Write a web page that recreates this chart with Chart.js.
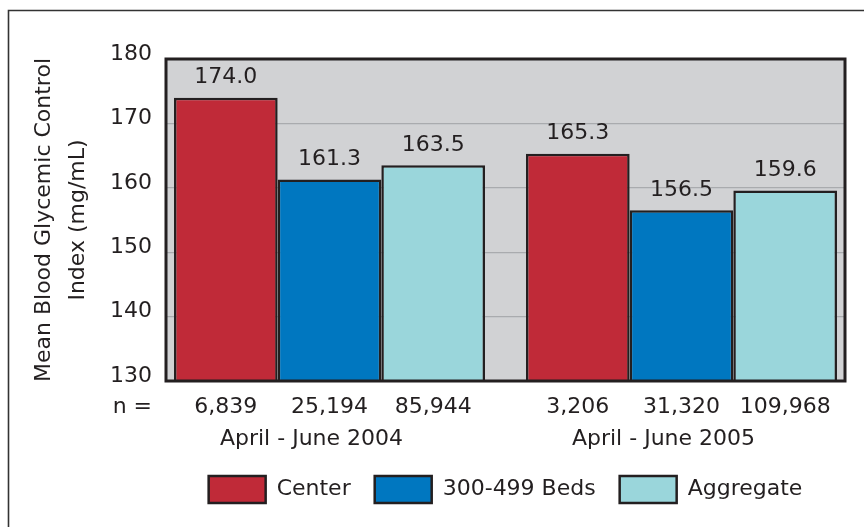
<!DOCTYPE html>
<html>
<head>
<meta charset="utf-8">
<script src="https://cdn.jsdelivr.net/npm/chart.js@4/dist/chart.umd.min.js"></script>
<style>
  html, body { margin: 0; padding: 0; background: #ffffff; }
  #wrap { position: relative; width: 864px; height: 527px; }
</style>
</head>
<body>
<div id="wrap"><canvas id="c" width="864" height="527"></canvas></div>
<script>
// ---- data ----
const periods = ['April - June 2004', 'April - June 2005'];
const seriesNames = ['Center', '300-499 Beds', 'Aggregate'];
const centerValues = [174.0, 165.3];
const bedsValues = [161.3, 156.5];
const aggregateValues = [163.5, 159.6];
const centerN = ['6,839', '3,206'];
const bedsN = ['25,194', '31,320'];
const aggregateN = ['85,944', '109,968'];
const yTicks = [130, 140, 150, 160, 170, 180];
const yTitle = ['Mean Blood Glycemic Control', 'Index (mg/mL)'];

// ---- style ----
const FONT = "'DejaVu Sans', sans-serif";
const TEXT = '#231f20';
const colors = ['#c02a38', '#0077c0', '#9ad6db'];
const allValues = [centerValues, bedsValues, aggregateValues];
const allN = [centerN, bedsN, aggregateN];

const toPoints = vals => vals.map((v, i) => ({ x: i, y: v }));

const decor = {
  id: 'decor',
  beforeDraw(chart) {
    const { ctx, chartArea: a } = chart;
    ctx.save();
    ctx.fillStyle = '#d1d2d4';
    ctx.fillRect(a.left, a.top, a.width, a.height);
    ctx.restore();
  },
  afterDatasetsDraw(chart) {
    const { ctx, chartArea: a } = chart;
    ctx.save();
    // plot frame
    ctx.strokeStyle = '#231f20';
    ctx.lineWidth = 3;
    ctx.strokeRect(a.left, a.top, a.width, a.height);

    ctx.fillStyle = TEXT;
    ctx.font = '22px ' + FONT;
    ctx.textBaseline = 'middle';
    ctx.textAlign = 'center';
    // value labels and n labels
    allValues.forEach((vals, di) => {
      const meta = chart.getDatasetMeta(di);
      meta.data.forEach((bar, j) => {
        ctx.fillText(vals[j].toFixed(1), bar.x, bar.y - 20);
        ctx.fillText(allN[di][j], bar.x, a.bottom + 26);
      });
    });
    // "n =" label
    ctx.textAlign = 'right';
    ctx.fillText('n =', a.left - 14, a.bottom + 26);
    // group labels
    ctx.textAlign = 'center';
    const first = chart.getDatasetMeta(0).data;
    const last = chart.getDatasetMeta(allValues.length - 1).data;
    periods.forEach((p, j) => {
      const l = first[j].x - first[j].width / 2;
      const r = last[j].x + last[j].width / 2;
      ctx.fillText(p, (l + r) / 2 - 18, a.bottom + 58);
    });
    ctx.restore();
  },
  afterDraw(chart) {
    const { ctx, width, height } = chart;
    ctx.save();
    ctx.strokeStyle = '#333333';
    ctx.lineWidth = 1.6;
    ctx.beginPath();
    ctx.moveTo(8.5, height);
    ctx.lineTo(8.5, 10.5);
    ctx.lineTo(width, 10.5);
    ctx.stroke();
    ctx.restore();
  }
};

new Chart(document.getElementById('c'), {
  type: 'bar',
  data: {
    datasets: seriesNames.map((name, i) => ({
      label: name,
      data: toPoints(allValues[i]),
      backgroundColor: colors[i],
      borderColor: '#231f20',
      borderWidth: 2.5,
      borderSkipped: false,
      categoryPercentage: 0.8835,
      barPercentage: 1.0
    }))
  },
  options: {
    responsive: false,
    animation: false,
    devicePixelRatio: 1,
    layout: { padding: { top: 59, right: 19, bottom: 14, left: 0 } },
    plugins: {
      tooltip: { enabled: false },
      legend: {
        position: 'bottom',
        fullSize: false,
        labels: {
          boxWidth: 57,
          boxHeight: 27,
          padding: 24,
          color: TEXT,
          font: { family: FONT, size: 22 }
        }
      }
    },
    scales: {
      x: {
        type: 'linear',
        offset: false,
        min: -0.4645,
        max: 1.4645,
        afterBuildTicks(scale) { scale.ticks = periods.map((p, i) => ({ value: i })); },
        grid: { display: false },
        border: { display: false },
        ticks: { display: false },
        afterFit(scale) { scale.height = 71; }
      },
      y: {
        min: yTicks[0],
        max: yTicks[yTicks.length - 1],
        afterBuildTicks(scale) { scale.ticks = yTicks.map(v => ({ value: v })); },
        grid: { color: '#a9abae', lineWidth: 1.2, drawTicks: false },
        border: { display: false },
        ticks: {
          color: TEXT,
          padding: 14,
          labelOffset: -5,
          font: { family: FONT, size: 22 }
        },
        title: {
          display: true,
          text: yTitle,
          color: TEXT,
          padding: { top: 27, bottom: 0 },
          font: { family: FONT, size: 22, lineHeight: 1.55 }
        },
        afterFit(scale) { scale.width = 166; }
      }
    }
  },
  plugins: [decor]
});
</script>
</body>
</html>
